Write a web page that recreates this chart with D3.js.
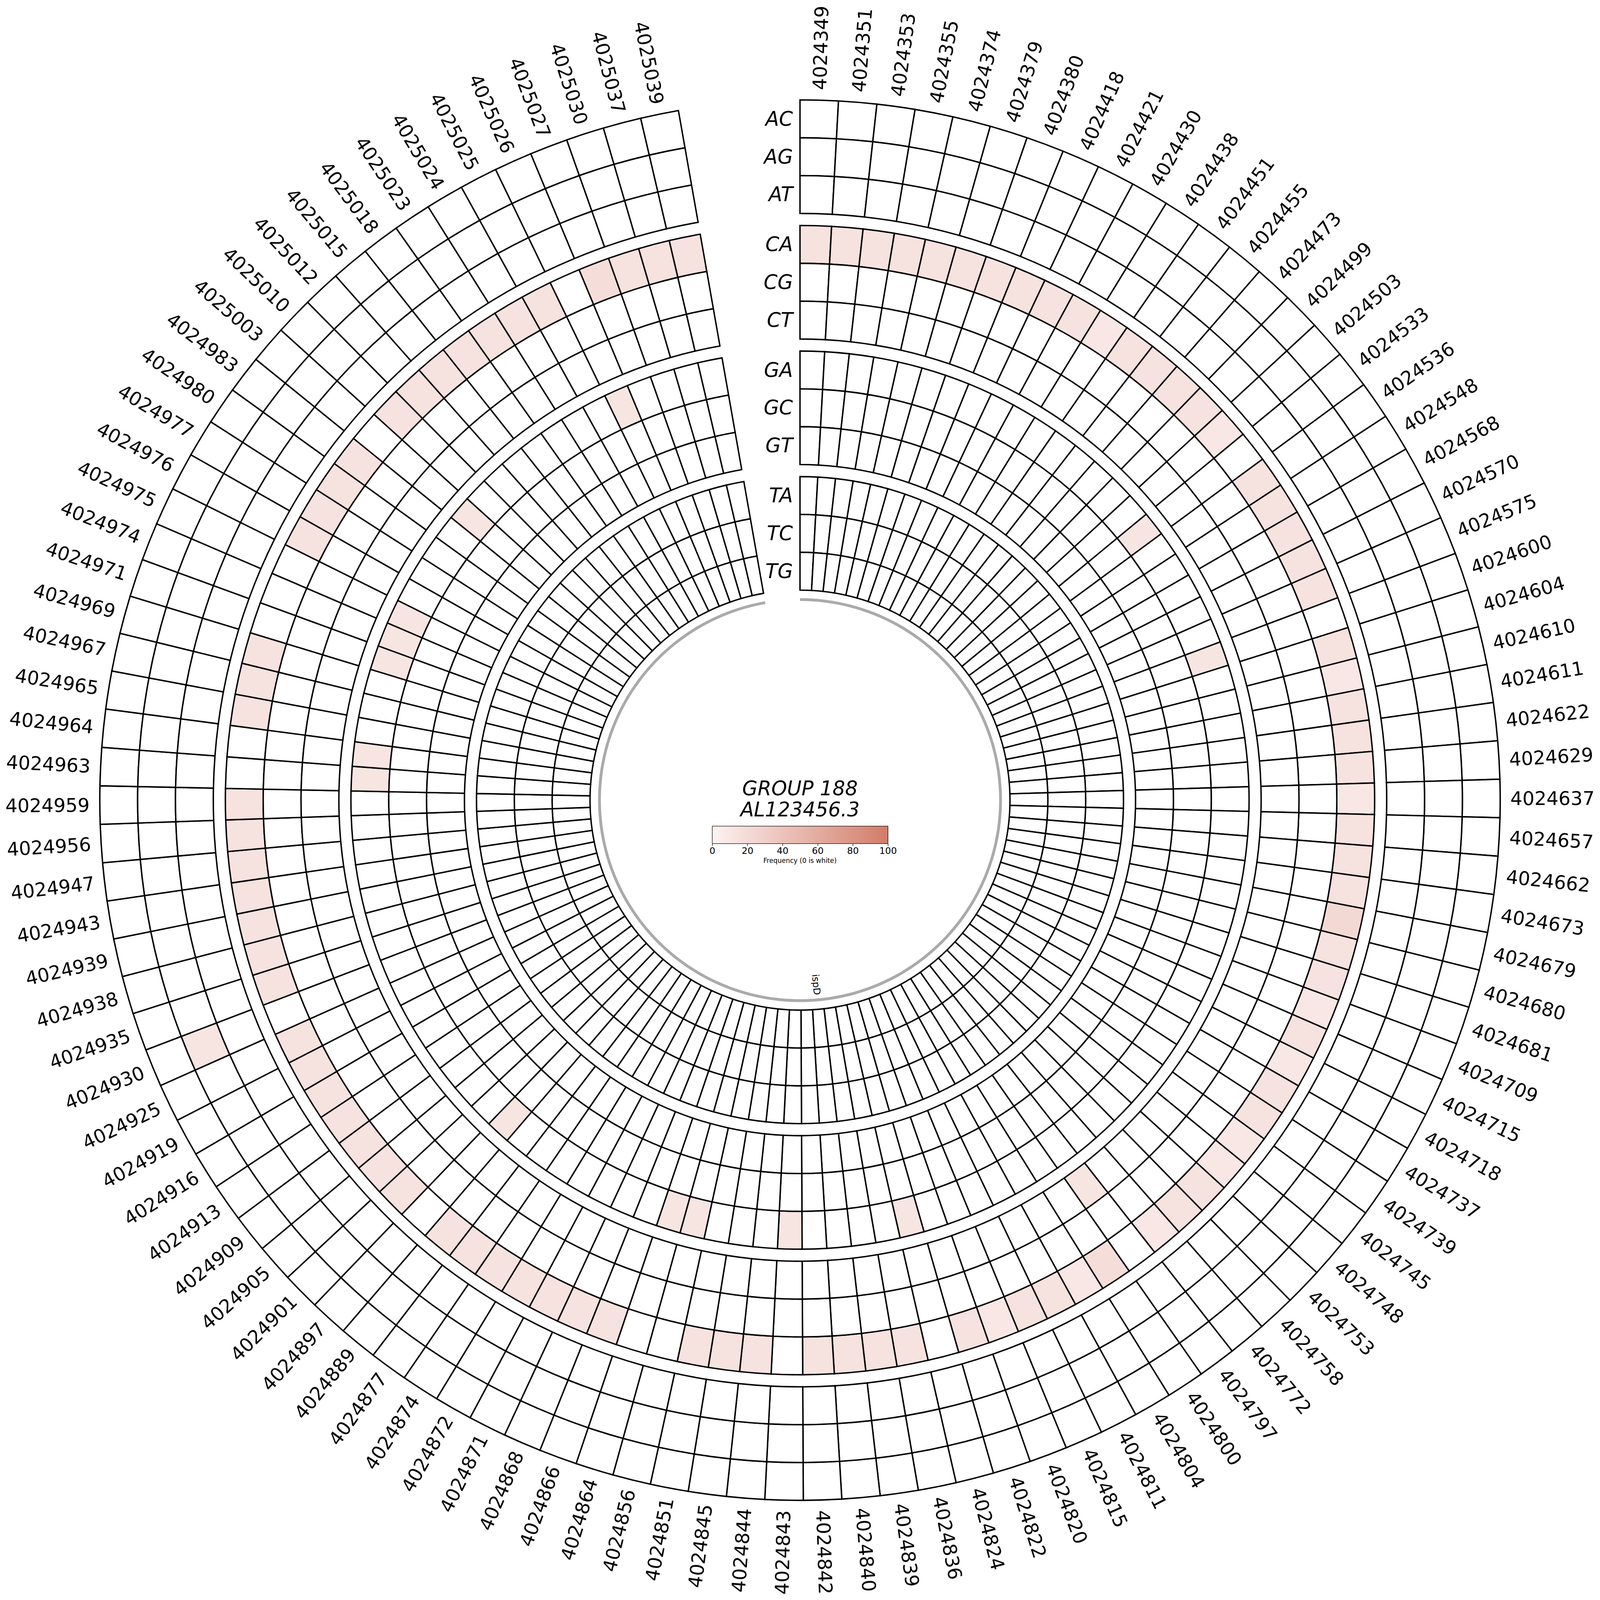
<!DOCTYPE html>
<html><head><meta charset="utf-8">
<script src="https://cdn.jsdelivr.net/npm/d3@7"></script>
<style>html,body{margin:0;padding:0;background:#fff;width:100%;height:100%;overflow:hidden;} svg{display:block;width:100vw;height:100vh;}</style>
</head><body>
<script>
// ---------------- DATA ----------------
const positions = [
"4024349","4024351","4024353","4024355","4024374","4024379","4024380","4024418","4024421","4024430",
"4024438","4024451","4024455","4024473","4024499","4024503","4024533","4024536","4024548","4024568",
"4024570","4024575","4024600","4024604","4024610","4024611","4024622","4024629","4024637","4024657",
"4024662","4024673","4024679","4024680","4024681","4024709","4024715","4024718","4024737","4024739",
"4024745","4024748","4024753","4024758","4024772","4024797","4024800","4024804","4024811","4024815",
"4024820","4024822","4024824","4024836","4024839","4024840","4024842","4024843","4024844","4024845",
"4024851","4024856","4024864","4024866","4024868","4024871","4024872","4024874","4024877","4024889",
"4024897","4024901","4024905","4024909","4024913","4024916","4024919","4024925","4024930","4024935",
"4024938","4024939","4024943","4024947","4024956","4024959","4024963","4024964","4024965","4024967",
"4024969","4024971","4024974","4024975","4024976","4024977","4024980","4024983","4025003","4025010",
"4025012","4025015","4025018","4025023","4025024","4025025","4025026","4025027","4025030","4025037",
"4025039"];

const trackNames = ["A","C","G","T"];
const mutationTypes = ["AC","AG","AT","CA","CG","CT","GA","GC","GT","TA","TC","TG"];

// observed substitution type at each position
const observedType = [
"CA","CA","CA","CA","CA","CA","CA","CA","CA","CA",
"CA","CA","CA","CA","CA","CA","GA","CA","CA","CA",
"CA","CA","GA","CA","CA","CA","CA","CA","CA","CA",
"CA","CA","CA","CA","CA","CA","CA","CA","CA","CA",
"CA","CA","CA","CA","CA","CT","CA","CA","CA","CA",
"CA","CA","GA","CA","CA","CA","CA","GA","CA","CA",
"CA","GA","GA","CA","CA","CA","CA","CA","CA","CA",
"GA","CA","CA","CA","CA","CA","CA","CA","AG","CA",
"CA","CA","CA","CA","CA","CA","GA","GA","CA","CA",
"CA","GA","GA","GA","CA","CA","CA","CA","GA","CA",
"CA","CA","CA","CA","CA","CA","GA","CA","CA","CA",
"CA"];

// frequency (%) of that substitution at each position
const observedFreq = [
14,14,14,14,14,14,14,14,14,14,
10,14,14,14,14,10,12,14,14,14,
14,14,12,14,10,14,14,14,10,14,
14,14,22,14,14,10,14,10,14,14,
10,10,14,14,10,12,18,10,14,14,
10,14,12,14,14,14,14,12,14,14,
14,12,12,14,14,14,14,14,14,14,
12,14,14,14,14,14,14,14,12,14,
14,14,14,14,14,14,12,12,14,14,
14,12,12,12,14,14,14,14,12,14,
14,14,14,14,14,14,12,18,14,14,
14];

const colorbarTicks = [0,20,40,60,80,100];
const titleLines = ["GROUP 188","AL123456.3"];
const geneName = "ispD";
const colorbarLabel = "Frequency (0 is white)";

// ---------------- LAYOUT ----------------
const W = 6766, H = 6765, cx = 3383, cy = 3383;
const deg = Math.PI / 180;
const FONT = "'DejaVu Sans', 'Liberation Sans', sans-serif";
const R_OUT = 2961, TRACK_H = 480, GAP = 51;

const svg = d3.select("body").append("svg")
  .attr("viewBox", `0 0 ${W} ${H}`).attr("preserveAspectRatio", "xMidYMid meet");
svg.append("rect").attr("width", W).attr("height", H).attr("fill", "#fff");
const g = svg.append("g").attr("transform", `translate(${cx},${cy})`);

const angle = d3.scaleBand().domain(positions).range([0, 350 * deg]);
const trackDepth = d3.scaleBand().domain(trackNames)
  .range([0, 4 * TRACK_H + 3 * GAP]).paddingInner(GAP / (TRACK_H + GAP));
const rowBand = d3.scaleBand().domain([0, 1, 2]).range([0, trackDepth.bandwidth()]);
const color = d3.scaleLinear().domain([0, 100]).range(["#fcf3f2", "#d37c69"]).interpolate(d3.interpolateRgb);

function rowRadii(m) {
  const t = m[0];
  const j = mutationTypes.filter(d => d[0] === t).indexOf(m);
  const outer = R_OUT - trackDepth(t) - rowBand(j);
  return [outer - rowBand.bandwidth(), outer];
}

const arc = d3.arc();
const cells = [];
positions.forEach((p, i) => {
  mutationTypes.forEach(m => {
    const v = observedType[i] === m ? observedFreq[i] : 0;
    const [ri, ro] = rowRadii(m);
    cells.push({p, m, v, ri, ro});
  });
});

g.append("g").selectAll("path").data(cells).join("path")
  .attr("d", d => arc({innerRadius: d.ri, outerRadius: d.ro,
                       startAngle: angle(d.p), endAngle: angle(d.p) + angle.bandwidth()}))
  .attr("fill", d => d.v > 0 ? color(d.v) : "#ffffff")
  .attr("stroke", "#000").attr("stroke-width", 6).attr("stroke-linejoin", "miter");

// position labels
const LABEL_R = 3004;
g.append("g").selectAll("text").data(positions).join("text")
  .each(function(p) {
    const a = angle(p) + angle.bandwidth() / 2;
    const ad = a / deg;
    const x = LABEL_R * Math.sin(a), y = -LABEL_R * Math.cos(a);
    const right = ad < 180;
    d3.select(this)
      .attr("transform", `translate(${x},${y}) rotate(${right ? ad - 90 : ad + 90})`)
      .attr("text-anchor", right ? "start" : "end");
  })
  .attr("dominant-baseline", "central")
  .attr("font-family", FONT).attr("font-size", 80).attr("fill", "#000")
  .text(d => d);

// row labels in the gap
g.append("g").selectAll("text").data(mutationTypes).join("text")
  .attr("x", -30)
  .attr("y", m => { const [ri, ro] = rowRadii(m); return -(ri + ro) / 2; })
  .attr("text-anchor", "end").attr("dominant-baseline", "central")
  .attr("font-family", FONT).attr("font-style", "italic").attr("font-size", 84)
  .text(d => d);

// gene annotation arc
g.append("path")
  .attr("d", arc({innerRadius: 842, outerRadius: 854, startAngle: 0, endAngle: 350 * deg}))
  .attr("fill", "#aaaaaa");
{
  const a = 175 * deg, r = 783;
  g.append("text")
    .attr("transform", `translate(${r * Math.sin(a)},${-r * Math.cos(a)}) rotate(85)`)
    .attr("text-anchor", "middle").attr("dominant-baseline", "central")
    .attr("font-family", FONT).attr("font-size", 40)
    .text(geneName);
}

// title
g.append("g").selectAll("text").data(titleLines).join("text")
  .attr("x", 0).attr("y", (d, i) => -20 + i * 89)
  .attr("text-anchor", "middle")
  .attr("font-family", FONT).attr("font-style", "italic").attr("font-size", 84)
  .text(d => d);

// colorbar
const cbX0 = -371, cbX1 = 372, cbY = 110, cbH = 74;
const defs = svg.append("defs");
const grad = defs.append("linearGradient").attr("id", "cbgrad")
  .attr("x1", "0%").attr("x2", "100%").attr("y1", "0%").attr("y2", "0%");
d3.range(0, 101, 5).forEach(v => {
  grad.append("stop").attr("offset", `${v}%`).attr("stop-color", color(v));
});
const cbScale = d3.scaleLinear().domain([0, 100]).range([cbX0, cbX1]);
g.append("rect").attr("x", cbX0).attr("y", cbY).attr("width", cbX1 - cbX0).attr("height", cbH)
  .attr("fill", "url(#cbgrad)").attr("stroke", "#000").attr("stroke-width", 2);
const axG = g.append("g").attr("transform", `translate(0,${cbY + cbH})`)
  .call(d3.axisBottom(cbScale).tickValues(colorbarTicks).tickSize(10).tickPadding(6));
axG.select(".domain").remove();
axG.selectAll(".tick line").attr("stroke", "#000").attr("stroke-width", 2);
axG.selectAll(".tick text").attr("font-family", FONT).attr("font-size", 39).attr("fill", "#000");
g.append("text").attr("x", 0).attr("y", 265).attr("text-anchor", "middle")
  .attr("font-family", FONT).attr("font-size", 28).text(colorbarLabel);
</script>
</body></html>
